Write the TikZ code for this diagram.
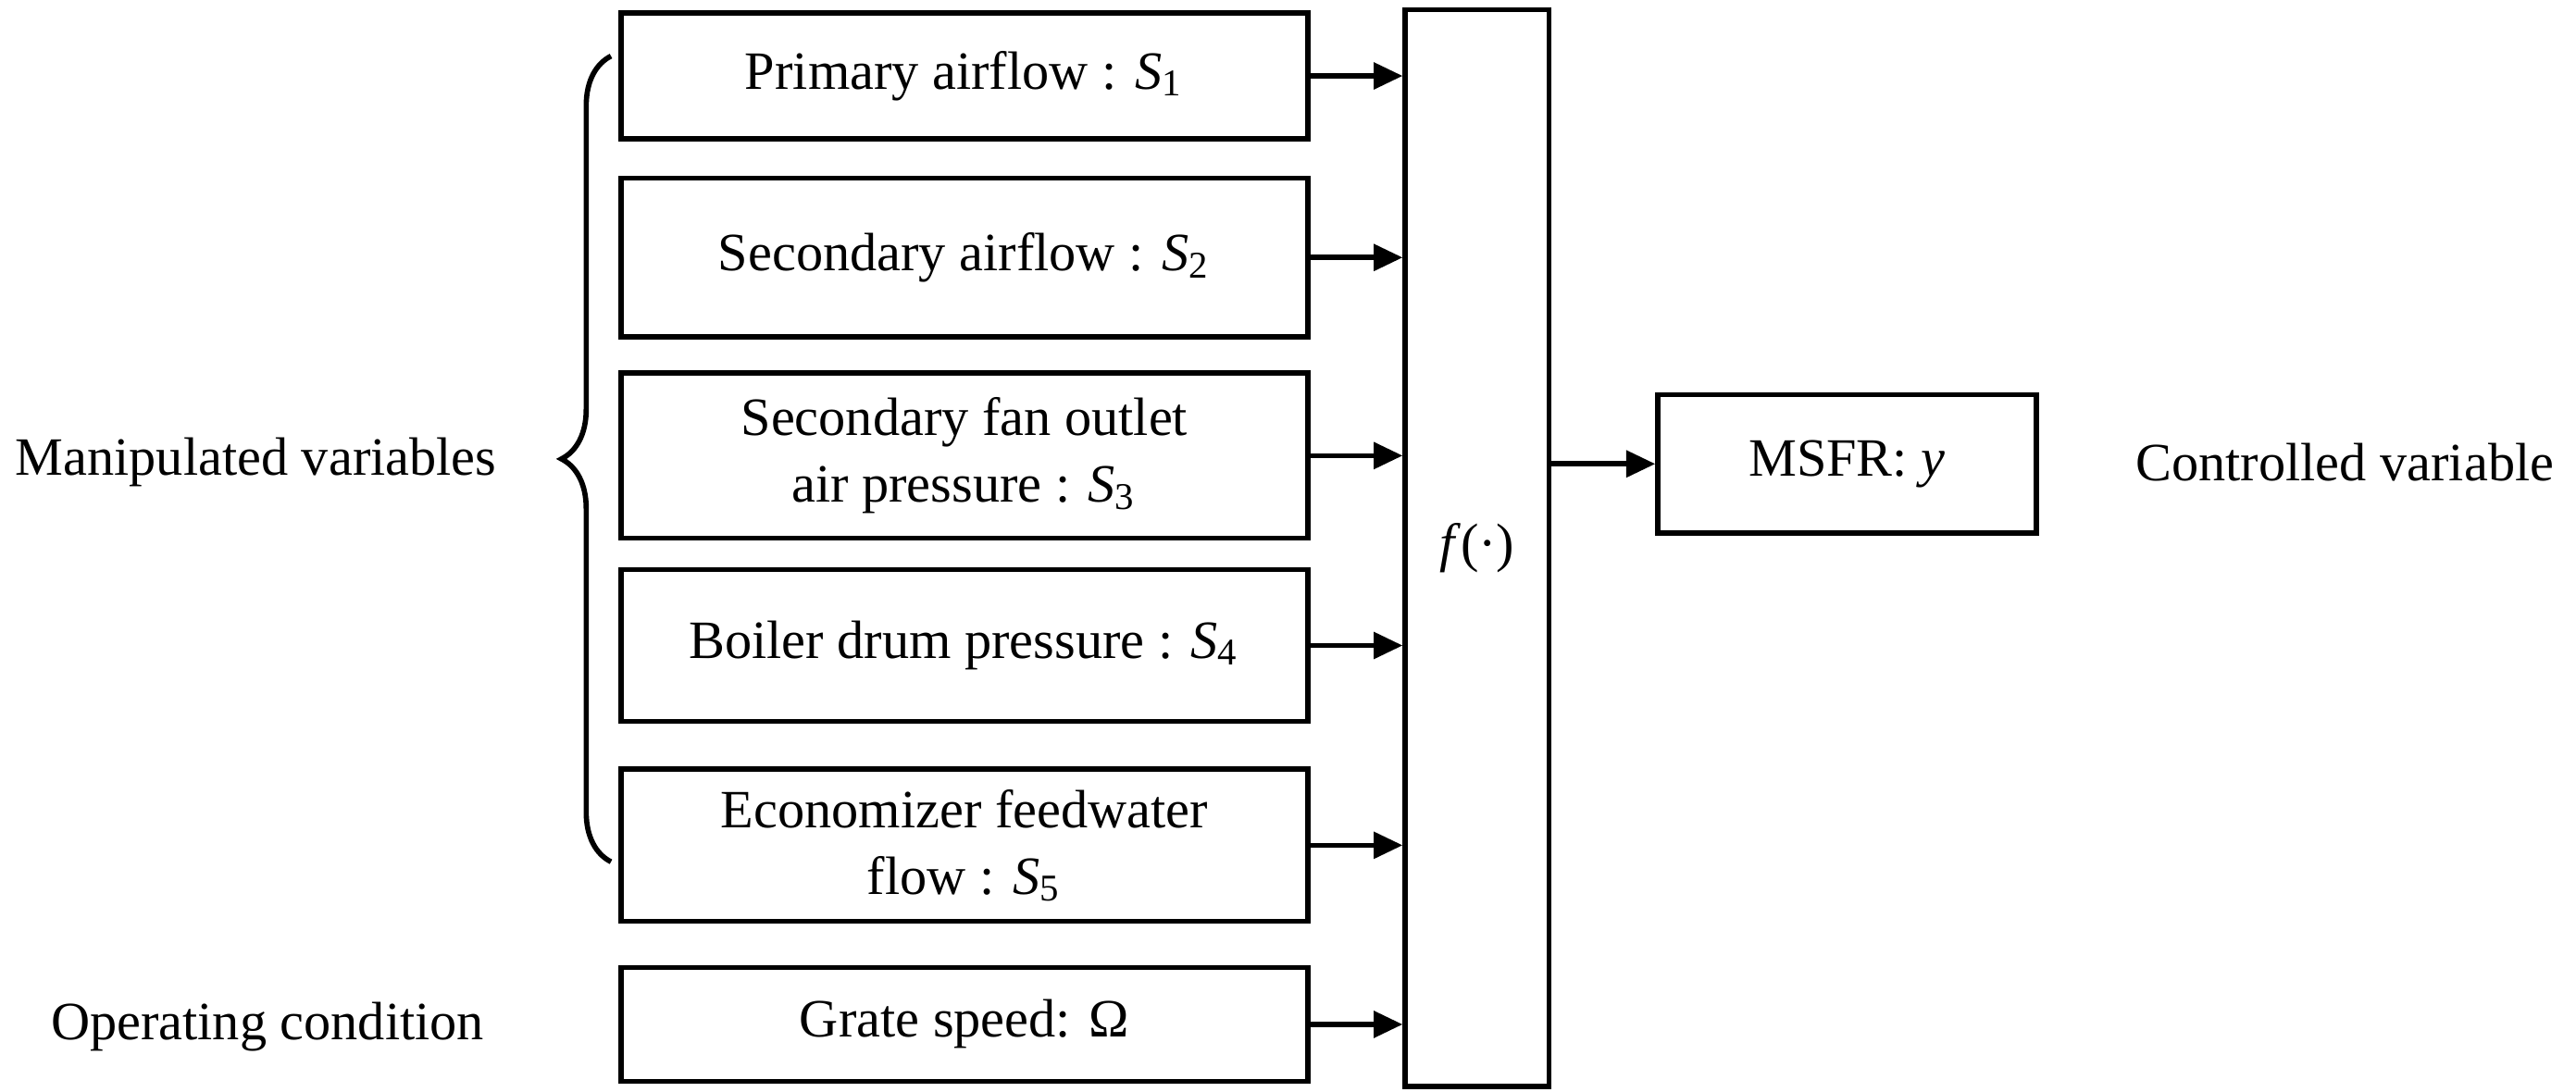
\documentclass[tikz,border=0pt]{standalone}
\usepackage{fontspec}
\setmainfont{Liberation Serif}
\usetikzlibrary{arrows.meta,decorations.pathreplacing}
\newcommand{\vs}[1]{\textit{S}\textsubscript{#1}}
\begin{document}
\begin{tikzpicture}[x=1cm,y=1cm,
  box/.style={draw,line width=0.9pt,align=center,font=\fontsize{9.3}{11.5}\selectfont,inner sep=0pt},
  lab/.style={font=\fontsize{9.3}{11.5}\selectfont},
  arr/.style={-{Triangle[length=5pt,width=4.5pt]},line width=0.9pt}]
\useasboundingbox (0,0) rectangle (15.6,6.614);
\node[box,minimum width=4.16cm,minimum height=0.76cm] (b1) at (5.84,{6.614-0.46}) {Primary airflow : \vs{1}};
\node[box,minimum width=4.16cm,minimum height=0.96cm] (b2) at (5.84,{6.614-1.56}) {Secondary airflow : \vs{2}};
\node[box,minimum width=4.16cm,minimum height=1.0cm] (b3) at (5.84,{6.614-2.76}) {Secondary fan outlet\\air pressure : \vs{3}};
\node[box,minimum width=4.16cm,minimum height=0.92cm] (b4) at (5.84,{6.614-3.91}) {Boiler drum pressure : \vs{4}};
\node[box,minimum width=4.16cm,minimum height=0.92cm] (b5) at (5.84,{6.614-5.12}) {Economizer feedwater\\flow : \vs{5}};
\node[box,minimum width=4.16cm,minimum height=0.69cm] (b6) at (5.84,{6.614-6.205}) {Grate speed: Ω};
\node[box,minimum width=0.87cm,minimum height=6.52cm] (f) at (8.945,{6.614-3.32}) {\textit{f}(·)};
\node[box,minimum width=2.29cm,minimum height=0.84cm] (m) at (11.185,{6.614-2.81}) {MSFR: \textit{y}};
\node[lab] (mv) at (1.55,{6.614-2.80}) {Manipulated variables};
\node[lab] (oc) at (1.62,{6.614-6.22}) {Operating condition};
\node[lab] (cv) at (14.2,{6.614-2.80}) {Controlled variable};
\foreach \b in {b1,b2,b3,b4,b5,b6}
  \draw[arr] (\b.east) -- (\b.east -| f.west);
\draw[arr] (f.east |- m.west) -- (m.west);
\coordinate (bt) at (3.70,{6.614-0.34});
\coordinate (bb) at (3.70,{6.614-5.22});
\draw[line width=0.9pt,decorate,decoration={brace,amplitude=0.3cm}] (bb) -- (bt);
\end{tikzpicture}
\end{document}
